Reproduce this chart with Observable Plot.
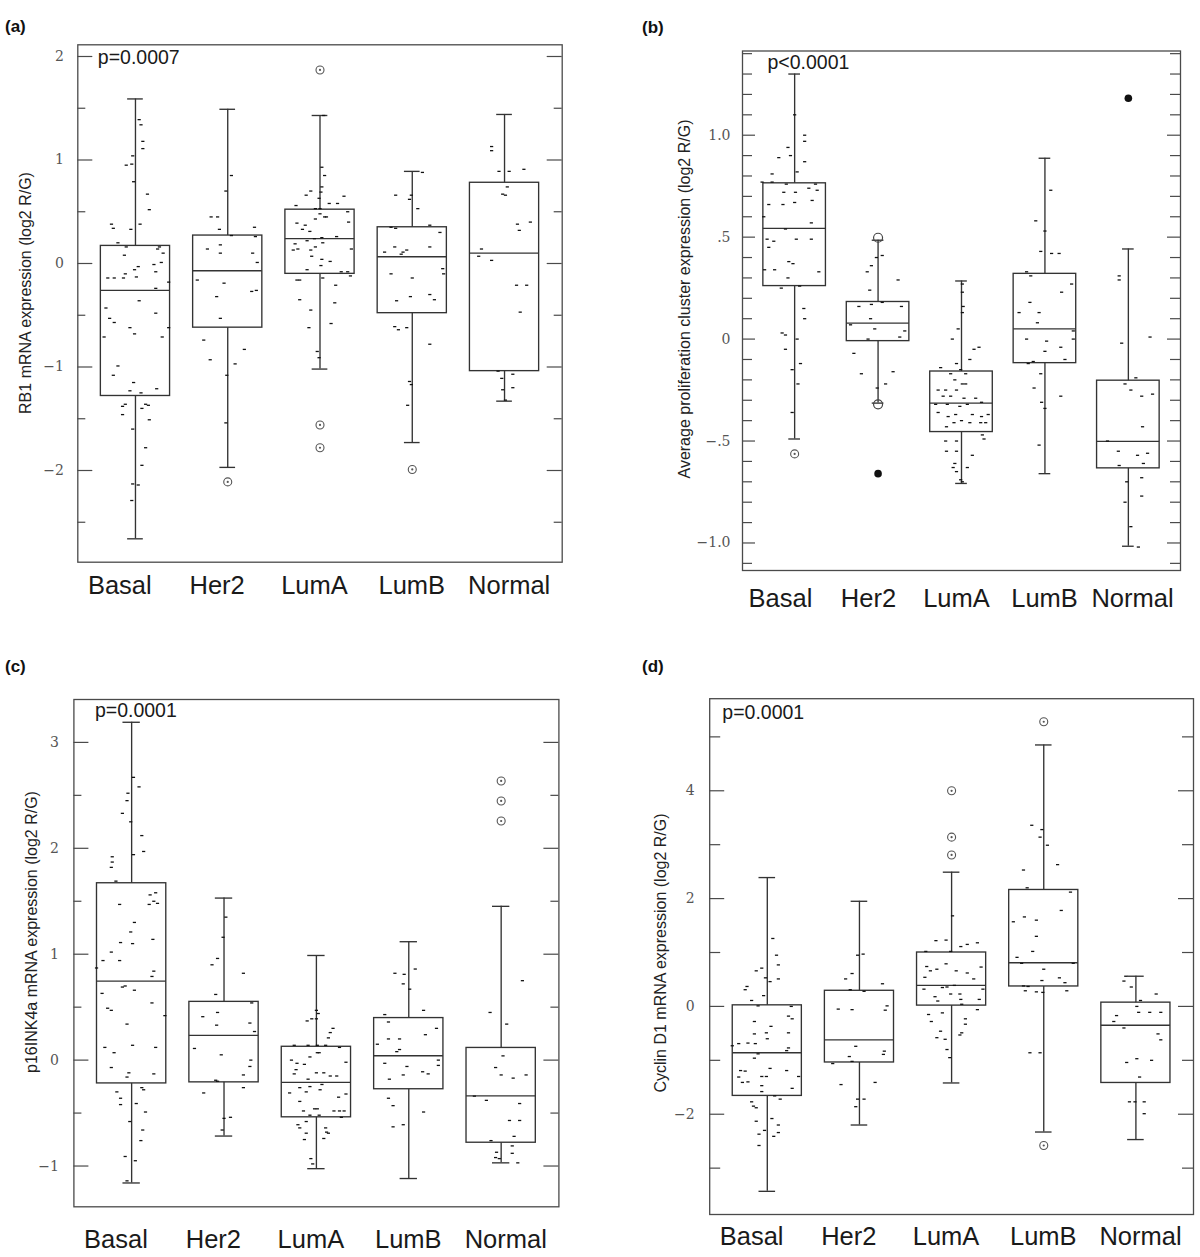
<!DOCTYPE html>
<html><head><meta charset="utf-8">
<script src="https://cdn.jsdelivr.net/npm/d3@7"></script>
<script src="https://cdn.jsdelivr.net/npm/@observablehq/plot@0.6"></script>
<style>
body{margin:0;background:#fff;}
#page{position:relative;width:1200px;height:1257px;overflow:hidden;background:#fff;font-family:"Liberation Sans",Arial,sans-serif;}
.panel{position:absolute;}
.tag{position:absolute;font-weight:bold;font-size:17px;line-height:17px;color:#111;}
.ytitle{position:absolute;white-space:nowrap;font-size:16px;line-height:1;color:#222;transform:translate(-50%,-50%) rotate(-90deg);}
</style></head><body><div id="page"></div>
<script>
const categories = ["Basal", "Her2", "LumA", "LumB", "Normal"];

// ---------- (a) RB1 mRNA expression ----------
// box stats per category: [lower whisker, Q1, median, Q3, upper whisker]
const rb1Box = [[-2.66,-1.28,-0.26,0.17,1.59],[-1.97,-0.62,-0.07,0.27,1.49],[-1.02,-0.10,0.24,0.52,1.43],[-1.73,-0.48,0.065,0.35,0.89],[-1.33,-1.04,0.10,0.78,1.44]];
const rb1Out = [[1,-2.11,"ring"],[2,1.87,"ring"],[2,-1.56,"ring"],[2,-1.78,"ring"],[3,-1.99,"ring"]];
// jittered samples: [horizontal jitter (fraction of category step), value]
const rb1Basal = [[0.04,1.39],[0.06,1.34],[0.08,1.18],[0.08,1.11],[-0.03,1.04],[-0.04,0.96],[-0.10,0.95],[-0.02,0.79],[0.13,0.67],[0.15,0.52],[-0.26,0.38],[-0.24,0.34],[-0.05,0.33],[0.05,0.38],[-0.19,0.20],[-0.10,0.16],[0.26,0.16],[-0.12,0.08],[0.24,0.14],[0.30,0.10],[-0.30,-0.14],[-0.23,-0.14],[-0.13,-0.14],[-0.11,-0.10],[-0.01,-0.06],[0.03,-0.03],[0.22,-0.08],[0.20,-0.01],[0.28,0.01],[0.01,-0.13],[0.22,-0.24],[0.36,-0.18],[-0.32,-0.43],[-0.28,-0.53],[-0.23,-0.57],[-0.06,-0.62],[-0.01,-0.68],[0.04,-0.36],[0.22,-0.48],[0.36,-0.62],[0.29,-0.71],[-0.34,-0.71],[-0.19,-0.99],[-0.24,-1.08],[-0.02,-1.15],[-0.06,-1.23],[0.23,-1.21],[0.06,-1.25],[-0.14,-1.38],[-0.11,-1.36],[-0.14,-1.46],[0.11,-1.36],[0.14,-1.37],[0.07,-1.40],[0.15,-1.51],[-0.03,-1.60],[0.11,-1.78],[0.07,-1.95],[-0.03,-2.13],[0.03,-2.14],[-0.04,-2.29]];
const rb1Her2 = [[0.04,0.85],[-0.02,0.70],[-0.18,0.45],[-0.11,0.45],[-0.09,0.33],[0.04,0.27],[0.29,0.35],[0.30,0.26],[-0.22,0.14],[-0.08,0.18],[-0.08,0.10],[0.27,0.10],[0.32,0.01],[-0.33,-0.16],[-0.04,-0.19],[-0.12,-0.32],[0.31,-0.26],[0.26,-0.27],[-0.08,-0.53],[-0.26,-0.74],[0.18,-0.83],[-0.19,-0.93],[0.08,-0.97],[-0.01,-1.08],[-0.02,-1.54]];
const rb1LumA = [[0.04,1.43],[0.02,0.93],[0.05,0.85],[0.02,0.74],[0.01,0.69],[-0.15,0.66],[-0.10,0.70],[-0.01,0.63],[0.26,0.65],[-0.26,0.56],[0.00,0.53],[-0.05,0.53],[0.10,0.58],[0.19,0.58],[0.30,0.50],[0.00,0.48],[0.05,0.45],[0.07,0.45],[-0.05,0.43],[-0.25,0.39],[-0.11,0.31],[-0.16,0.37],[-0.19,0.33],[0.31,0.40],[0.18,0.26],[0.02,0.25],[-0.06,0.24],[-0.27,0.19],[-0.14,0.22],[-0.05,0.16],[-0.29,0.13],[-0.24,0.14],[-0.10,0.13],[0.03,0.20],[0.34,0.14],[-0.09,0.07],[0.02,0.04],[0.11,0.02],[0.01,-0.02],[-0.14,-0.06],[0.23,-0.08],[0.30,-0.08],[0.33,-0.12],[0.03,-0.14],[-0.25,-0.16],[-0.22,-0.16],[0.17,-0.21],[0.16,-0.38],[-0.22,-0.35],[-0.10,-0.45],[0.12,-0.58],[-0.12,-0.62],[-0.03,-0.85],[-0.01,-0.91]];
const rb1LumB = [[0.11,0.88],[-0.18,0.66],[-0.01,0.66],[-0.03,0.62],[0.06,0.53],[-0.23,0.35],[-0.18,0.34],[0.19,0.37],[0.30,0.30],[0.19,0.16],[-0.19,0.16],[-0.06,0.13],[-0.10,0.11],[-0.12,0.09],[-0.30,0.11],[0.33,-0.05],[0.34,-0.10],[-0.23,-0.10],[0.00,-0.14],[-0.02,-0.32],[0.19,-0.30],[-0.17,-0.36],[0.24,-0.35],[-0.19,-0.61],[-0.15,-0.64],[-0.06,-0.62],[0.19,-0.78],[-0.03,-1.14],[-0.01,-1.17],[-0.05,-1.37]];
const rb1Normal = [[-0.14,1.13],[-0.14,1.09],[-0.06,0.89],[0.05,0.89],[0.21,0.91],[0.03,0.74],[-0.02,0.67],[0.01,0.66],[0.14,0.38],[0.28,0.40],[0.16,0.32],[-0.25,0.14],[-0.28,0.07],[-0.14,0.03],[0.13,-0.21],[0.24,-0.21],[0.17,-0.47],[-0.07,-1.04],[-0.03,-1.11],[0.09,-1.07],[-0.02,-1.22],[0.09,-1.20],[0.01,-1.32]];
const rb1Major = [-2, -1, 0, 1, 2];
const rb1Minor = [-2.5, -1.5, -0.5, 0.5, 1.5];

// ---------- (b) Average proliferation cluster expression ----------
const prolBox = [[-0.49,0.26,0.543,0.764,1.30],[-0.314,-0.01,0.078,0.182,0.485],[-0.708,-0.456,-0.314,-0.159,0.285],[-0.66,-0.118,0.05,0.32,0.887],[-1.016,-0.634,-0.502,-0.204,0.442]];
const prolOut = [[0,-0.563,"ring"],[1,0.497,"open"],[1,-0.32,"open"],[1,-0.66,"filled"],[4,1.181,"filled"]];
const prolBasal = [[0.00,1.10],[0.12,1.00],[0.12,0.97],[-0.08,0.94],[-0.19,0.89],[-0.05,0.90],[0.12,0.87],[-0.27,0.81],[0.03,0.82],[-0.39,0.77],[-0.27,0.77],[-0.10,0.76],[0.25,0.76],[-0.13,0.72],[0.01,0.72],[0.17,0.74],[0.27,0.73],[-0.31,0.66],[-0.14,0.66],[0.21,0.68],[0.00,0.67],[-0.37,0.60],[0.20,0.57],[-0.11,0.54],[-0.33,0.49],[-0.25,0.48],[0.02,0.49],[0.20,0.49],[-0.31,0.45],[-0.07,0.38],[-0.02,0.37],[-0.36,0.34],[-0.24,0.34],[0.29,0.33],[-0.08,0.30],[0.06,0.26],[-0.16,0.25],[0.11,0.15],[0.12,0.10],[-0.15,0.03],[-0.11,0.02],[0.03,0.00],[-0.11,-0.05],[0.07,-0.12],[-0.03,-0.15],[0.04,-0.22],[-0.03,-0.36]];
const prolHer2 = [[0.05,0.41],[-0.02,0.40],[-0.13,0.33],[-0.08,0.36],[0.24,0.29],[-0.10,0.24],[-0.23,0.16],[-0.08,0.17],[0.05,0.18],[0.28,0.16],[-0.09,0.10],[-0.33,0.07],[-0.04,0.05],[0.32,0.04],[0.26,0.01],[-0.12,0.00],[-0.29,-0.07],[-0.20,-0.17],[0.18,-0.16],[0.09,-0.22],[-0.01,-0.24]];
const prolLumA = [[0.01,0.27],[0.01,0.23],[0.02,0.16],[0.01,0.13],[-0.04,0.05],[-0.11,0.00],[0.15,-0.05],[0.21,-0.04],[0.10,-0.10],[-0.06,-0.12],[-0.25,-0.14],[-0.01,-0.15],[-0.13,-0.17],[0.05,-0.17],[-0.08,-0.20],[0.01,-0.22],[0.05,-0.22],[-0.28,-0.25],[-0.19,-0.25],[-0.06,-0.25],[-0.22,-0.28],[-0.13,-0.28],[0.03,-0.29],[0.17,-0.29],[0.24,-0.31],[-0.31,-0.32],[-0.17,-0.32],[-0.02,-0.33],[0.07,-0.32],[-0.28,-0.36],[-0.07,-0.37],[0.13,-0.37],[0.24,-0.38],[0.32,-0.37],[-0.16,-0.38],[0.00,-0.40],[-0.09,-0.41],[0.10,-0.41],[0.23,-0.41],[0.29,-0.41],[-0.18,-0.43],[0.25,-0.47],[0.27,-0.49],[-0.19,-0.50],[-0.06,-0.50],[-0.18,-0.55],[-0.06,-0.55],[0.13,-0.57],[-0.08,-0.61],[-0.10,-0.63],[0.07,-0.63],[-0.06,-0.65],[-0.01,-0.69],[0.01,-0.70]];
const prolLumB = [[0.07,0.73],[-0.11,0.58],[0.00,0.53],[-0.05,0.43],[0.08,0.42],[0.17,0.42],[-0.22,0.33],[-0.17,0.31],[0.32,0.27],[0.20,0.23],[-0.31,0.13],[-0.18,0.18],[-0.07,0.13],[-0.09,0.08],[-0.22,0.00],[0.02,-0.01],[0.34,0.04],[0.34,0.00],[0.19,-0.04],[0.00,-0.06],[-0.14,-0.11],[0.24,-0.10],[-0.20,-0.12],[-0.05,-0.17],[-0.13,-0.24],[0.19,-0.28],[-0.04,-0.31],[0.00,-0.34],[-0.07,-0.52]];
const prolNormal = [[-0.11,0.31],[-0.11,0.29],[0.26,0.01],[-0.08,-0.02],[-0.04,-0.22],[0.09,-0.19],[0.03,-0.25],[0.16,-0.28],[0.29,-0.27],[0.17,-0.43],[-0.25,-0.50],[-0.12,-0.55],[0.11,-0.57],[0.23,-0.56],[-0.11,-0.62],[0.18,-0.61],[-0.02,-0.70],[0.16,-0.68],[0.16,-0.77],[-0.04,-0.80],[0.03,-0.92],[0.12,-1.02]];
const prolMajor = [-1, -0.5, 0, 0.5, 1];
const prolMinor = [-1.1,-0.9,-0.8,-0.7,-0.6,-0.4,-0.3,-0.2,-0.1,0.1,0.2,0.3,0.4,0.6,0.7,0.8,0.9,1.1,1.2,1.3,1.4];
const prolTickLabels = ["−1.0", "−.5", "0", ".5", "1.0"];

// ---------- (c) p16INK4a mRNA expression ----------
const p16Box = [[-1.16,-0.22,0.746,1.67,3.19],[-0.717,-0.21,0.234,0.55,1.53],[-1.025,-0.54,-0.21,0.126,0.988],[-1.118,-0.275,0.041,0.397,1.118],[-0.97,-0.78,-0.338,0.115,1.452]];
const p16Out = [[4,2.636,"ring"],[4,2.447,"ring"],[4,2.258,"ring"]];
const p16Basal = [[0.02,2.67],[0.08,2.58],[-0.04,2.52],[-0.05,2.45],[-0.10,2.33],[-0.01,2.25],[0.11,2.12],[0.13,1.97],[0.02,1.94],[-0.21,1.92],[-0.21,1.87],[-0.22,1.82],[-0.17,1.69],[0.26,1.58],[0.20,1.56],[0.24,1.50],[0.19,1.47],[0.28,1.48],[-0.13,1.47],[0.03,1.30],[-0.01,1.21],[0.23,1.14],[-0.12,1.11],[0.01,1.10],[-0.22,1.02],[-0.13,0.94],[-0.31,0.94],[0.24,0.84],[0.22,0.79],[-0.38,0.87],[-0.10,0.69],[-0.07,0.70],[0.03,0.66],[-0.32,0.63],[0.22,0.54],[-0.26,0.49],[-0.22,0.47],[0.36,0.42],[-0.05,0.34],[-0.29,0.12],[0.01,0.14],[0.26,0.12],[-0.19,0.07],[-0.22,-0.07],[-0.03,-0.12],[-0.05,-0.16],[0.24,-0.13],[0.11,-0.26],[0.13,-0.28],[-0.16,-0.30],[-0.12,-0.36],[-0.12,-0.42],[0.05,-0.41],[0.15,-0.49],[-0.02,-0.58],[0.12,-0.66],[0.10,-0.76],[-0.07,-0.91],[0.04,-0.95],[-0.05,-1.14]];
const p16Her2 = [[0.02,1.35],[-0.01,1.16],[-0.07,0.96],[-0.13,0.90],[0.21,0.82],[-0.09,0.62],[-0.07,0.45],[-0.23,0.41],[0.30,0.54],[-0.08,0.33],[0.28,0.35],[0.33,0.27],[-0.32,0.11],[-0.03,0.05],[0.29,0.00],[0.28,-0.06],[0.21,-0.14],[-0.09,-0.19],[-0.07,-0.20],[0.21,-0.26],[-0.22,-0.31],[0.07,-0.54],[0.00,-0.55],[-0.02,-0.66]];
const p16LumA = [[0.00,0.47],[0.02,0.44],[-0.10,0.37],[-0.05,0.39],[0.00,0.39],[0.18,0.30],[0.15,0.26],[0.13,0.21],[-0.24,0.14],[-0.09,0.14],[0.01,0.14],[0.10,0.14],[0.25,0.12],[0.01,0.07],[0.03,0.07],[-0.07,0.03],[-0.27,0.00],[-0.21,-0.03],[-0.13,-0.04],[0.32,-0.02],[-0.22,-0.09],[-0.24,-0.13],[0.00,-0.12],[0.08,-0.12],[0.15,-0.15],[0.22,-0.15],[-0.09,-0.18],[-0.07,-0.25],[-0.18,-0.26],[0.06,-0.23],[0.04,-0.28],[-0.29,-0.31],[-0.11,-0.30],[0.32,-0.32],[0.24,-0.35],[-0.18,-0.39],[-0.14,-0.48],[-0.02,-0.46],[0.01,-0.46],[0.19,-0.48],[0.25,-0.48],[0.30,-0.48],[0.27,-0.54],[-0.07,-0.52],[0.03,-0.52],[-0.20,-0.61],[-0.18,-0.64],[-0.11,-0.58],[0.10,-0.64],[0.11,-0.68],[0.13,-0.69],[0.08,-0.74],[-0.13,-0.75],[-0.11,-0.69],[-0.06,-0.93],[-0.04,-0.98]];
const p16LumB = [[0.07,0.86],[-0.15,0.82],[-0.05,0.81],[-0.06,0.72],[0.01,0.67],[0.16,0.47],[-0.26,0.43],[-0.22,0.36],[0.30,0.30],[0.18,0.24],[-0.22,0.20],[-0.10,0.20],[-0.34,0.15],[-0.10,0.10],[-0.13,0.08],[0.32,0.00],[-0.26,-0.03],[0.32,-0.05],[-0.02,-0.06],[0.15,-0.11],[0.21,-0.13],[-0.06,-0.14],[-0.21,-0.18],[-0.22,-0.36],[-0.17,-0.43],[0.16,-0.49],[-0.06,-0.61],[-0.17,-0.63]];
const p16Normal = [[0.23,0.75],[-0.12,0.45],[0.06,0.34],[0.02,0.04],[-0.06,-0.07],[0.00,-0.14],[0.13,-0.17],[0.27,-0.14],[-0.29,-0.34],[-0.16,-0.38],[0.20,-0.41],[0.09,-0.57],[0.20,-0.57],[0.14,-0.72],[-0.11,-0.76],[0.12,-0.81],[-0.05,-0.87],[0.12,-0.88],[-0.06,-0.92],[-0.02,-0.93],[0.18,-0.97]];
const p16Major = [-1, 0, 1, 2, 3];
const p16Minor = [-0.5, 0.5, 1.5, 2.5];

// ---------- (d) Cyclin D1 mRNA expression ----------
const cycBox = [[-3.43,-1.66,-0.86,0.02,2.39],[-2.20,-1.04,-0.62,0.29,1.95],[-1.42,0.015,0.39,1.0,2.49],[-2.33,0.37,0.81,2.16,4.85],[-2.47,-1.42,-0.35,0.07,0.56]];
const cycOut = [[2,4.0,"ring"],[2,3.14,"ring"],[2,2.81,"ring"],[3,5.28,"ring"],[3,-2.58,"ring"]];
const cycBasal = [[0.06,1.26],[0.10,0.95],[0.12,0.77],[-0.06,0.71],[-0.12,0.66],[-0.02,0.53],[0.12,0.51],[0.03,0.46],[-0.22,0.37],[-0.24,0.31],[-0.04,0.20],[-0.17,0.11],[-0.10,0.01],[0.26,0.00],[0.23,-0.18],[0.27,-0.23],[-0.14,-0.28],[0.04,-0.37],[-0.14,-0.51],[-0.01,-0.49],[0.23,-0.49],[0.00,-0.60],[-0.31,-0.69],[-0.21,-0.68],[-0.13,-0.69],[-0.38,-0.73],[0.23,-0.77],[0.21,-0.82],[-0.10,-0.88],[-0.14,-0.96],[0.03,-1.15],[-0.29,-1.19],[-0.24,-1.20],[-0.31,-1.31],[-0.27,-1.41],[-0.21,-1.40],[-0.06,-1.30],[-0.01,-1.30],[0.21,-1.19],[0.34,-1.30],[0.27,-1.52],[-0.06,-1.47],[-0.06,-1.58],[0.08,-1.66],[0.14,-1.72],[-0.17,-1.77],[-0.15,-1.85],[-0.12,-1.88],[-0.12,-2.13],[0.05,-2.08],[0.12,-2.20],[-0.03,-2.30],[-0.09,-2.37],[0.12,-2.34],[0.07,-2.41],[-0.09,-2.58]];
const cycHer2 = [[-0.02,0.95],[0.04,0.97],[-0.08,0.61],[-0.15,0.51],[0.25,0.42],[-0.10,0.31],[0.05,0.28],[-0.23,-0.05],[-0.08,-0.06],[0.28,-0.07],[0.30,0.01],[-0.04,-0.74],[-0.11,-0.93],[0.26,-0.89],[0.27,-0.83],[-0.29,-1.06],[-0.08,-1.02],[-0.20,-1.45],[0.17,-1.41],[0.05,-1.72],[-0.02,-1.72],[-0.04,-1.86]];
const cycLumA = [[0.01,1.68],[-0.06,1.23],[-0.17,1.22],[0.17,1.15],[0.28,1.18],[0.10,1.11],[-0.01,1.02],[-0.28,1.02],[-0.06,0.79],[-0.27,0.74],[-0.16,0.69],[-0.23,0.66],[0.32,0.73],[0.05,0.66],[0.17,0.62],[-0.29,0.54],[0.24,0.51],[0.03,0.39],[-0.10,0.35],[-0.05,0.36],[-0.30,0.32],[-0.18,0.18],[-0.01,0.23],[0.34,0.32],[0.09,0.23],[-0.15,0.10],[0.10,0.13],[0.30,0.13],[0.11,0.04],[0.28,-0.06],[-0.25,-0.15],[-0.10,-0.12],[0.15,-0.23],[-0.22,-0.28],[0.15,-0.33],[-0.12,-0.46],[0.11,-0.49],[0.09,-0.53],[-0.07,-0.61],[-0.16,-0.58],[-0.05,-0.80],[-0.02,-0.95]];
const cycLumB = [[-0.13,3.36],[-0.02,3.28],[-0.04,3.14],[0.04,2.99],[0.15,2.63],[-0.22,2.53],[-0.18,2.20],[0.29,2.12],[0.19,1.78],[-0.21,1.66],[-0.33,1.57],[-0.08,1.60],[-0.08,1.30],[-0.12,1.02],[-0.29,0.91],[-0.24,0.80],[0.00,0.69],[0.32,0.80],[-0.02,0.48],[0.17,0.53],[0.23,0.44],[-0.22,0.38],[-0.17,0.37],[-0.20,0.29],[-0.08,0.27],[0.25,0.29],[-0.01,0.26],[-0.15,-0.86],[-0.04,-0.86]];
const cycNormal = [[-0.11,0.56],[-0.13,0.47],[-0.05,0.36],[0.22,0.23],[0.05,0.11],[0.01,0.00],[-0.21,-0.17],[0.03,-0.11],[0.15,-0.11],[0.27,-0.11],[-0.24,-0.28],[-0.13,-0.40],[0.24,-0.51],[0.27,-0.62],[-0.10,-1.04],[0.01,-0.97],[0.17,-1.00],[0.04,-1.31],[-0.07,-1.77],[-0.01,-1.77],[0.09,-1.77],[0.09,-1.99]];
const cycMajor = [-2, 0, 2, 4];
const cycMinor = [-3, -1, 1, 3, 5];

// ---------- layout (page coordinates) ----------
const panels = [
  {tag: "(a)", tagX: 5, tagY: 18, left: 0, top: 0, width: 600, height: 630,
   frame: {l: 77.3, r: 561.7, t: 44.3, b: 561.7}, yDomain: [-2.886, 2.113],
   box: rb1Box, out: rb1Out, points: [rb1Basal, rb1Her2, rb1LumA, rb1LumB, rb1Normal],
   major: rb1Major, minor: rb1Minor, majorLen: 15, minorLen: 8, yFormat: null,
   yPad: 14, xPad: 14, cap: 0.085, p: "p=0.0007", pdx: 20, pdy: 19,
   title: "RB1 mRNA expression (log2 R/G)", titleX: 26, titleY: 293},
  {tag: "(b)", tagX: 642, tagY: 19, left: 600, top: 0, width: 600, height: 630,
   frame: {l: 742, r: 1180, t: 50.5, b: 570}, yDomain: [-1.135, 1.413],
   box: prolBox, out: prolOut, points: [prolBasal, prolHer2, prolLumA, prolLumB, prolNormal],
   major: prolMajor, minor: prolMinor, majorLen: 13, minorLen: 10, yFormat: d => prolTickLabels[prolMajor.indexOf(d)],
   yPad: 12, xPad: 18, cap: 0.07, p: "p<0.0001", pdx: 25, pdy: 17.5,
   title: "Average proliferation cluster expression (log2 R/G)", titleX: 685, titleY: 299},
  {tag: "(c)", tagX: 5, tagY: 658, left: 0, top: 640, width: 600, height: 617,
   frame: {l: 73.4, r: 558.4, t: 699, b: 1206.3}, yDomain: [-1.385, 3.405],
   box: p16Box, out: p16Out, points: [p16Basal, p16Her2, p16LumA, p16LumB, p16Normal],
   major: p16Major, minor: p16Minor, majorLen: 15, minorLen: 8, yFormat: null,
   yPad: 15, xPad: 23, cap: 0.094, p: "p=0.0001", pdx: 21, pdy: 17.7,
   title: "p16INK4a mRNA expression (log2 R/G)", titleX: 32, titleY: 932},
  {tag: "(d)", tagX: 642, tagY: 658, left: 600, top: 640, width: 600, height: 617,
   frame: {l: 709.2, r: 1193, t: 698.2, b: 1214}, yDomain: [-3.86, 5.708],
   box: cycBox, out: cycOut, points: [cycBasal, cycHer2, cycLumA, cycLumB, cycNormal],
   major: cycMajor, minor: cycMinor, majorLen: 15, minorLen: 11, yFormat: null,
   yPad: 15, xPad: 12, cap: 0.09, p: "p=0.0001", pdx: 12.6, pdy: 20.5,
   title: "Cyclin D1 mRNA expression (log2 R/G)", titleX: 661, titleY: 953}
];

// x-axis labels sit slightly spread relative to the boxes
const labelPos = categories.map((c, i) => 1.94 + (i - 2) * 1.055);
const dash = {draw(ctx) { ctx.rect(-1.6, -0.65, 3.2, 1.3); }};
const SANS = "Liberation Sans, Arial, sans-serif";
const SERIF = "DejaVu Serif, Liberation Serif, serif";
const page = document.getElementById("page");

for (const cfg of panels) {
  const fw = cfg.frame.r - cfg.frame.l;
  const boxes = cfg.box.map(([lo, q1, med, q3, hi], i) => ({i, lo, q1, med, q3, hi}));
  const pts = cfg.points.flatMap((arr, i) => arr.map(([j, v]) => ({x: i + j, y: v})));
  const outs = cfg.out.map(([i, v, kind]) => ({x: i, y: v, kind}));
  const W = 0.375;
  const line = {stroke: "#333", strokeWidth: 1.35};
  const axisCol = "#4a4a4a";
  const svg = Plot.plot({
    width: cfg.width, height: cfg.height,
    marginLeft: cfg.frame.l - cfg.left,
    marginRight: cfg.left + cfg.width - cfg.frame.r,
    marginTop: cfg.frame.t - cfg.top,
    marginBottom: cfg.top + cfg.height - cfg.frame.b,
    style: {fontFamily: SANS, background: "transparent", overflow: "visible"},
    x: {type: "linear", domain: [-0.625, 4.625]},
    y: {type: "linear", domain: cfg.yDomain},
    marks: [
      Plot.ruleX(boxes, {x: "i", y1: "q3", y2: "hi", ...line}),
      Plot.ruleX(boxes, {x: "i", y1: "lo", y2: "q1", ...line}),
      Plot.ruleY(boxes, {y: "hi", x1: d => d.i - cfg.cap, x2: d => d.i + cfg.cap, ...line}),
      Plot.ruleY(boxes, {y: "lo", x1: d => d.i - cfg.cap, x2: d => d.i + cfg.cap, ...line}),
      Plot.rect(boxes, {x1: d => d.i - W, x2: d => d.i + W, y1: "q1", y2: "q3", fill: "none", ...line}),
      Plot.ruleY(boxes, {y: "med", x1: d => d.i - W, x2: d => d.i + W, ...line}),
      Plot.dot(pts, {x: "x", y: "y", symbol: dash, r: 1.5, fill: "#111", stroke: "none"}),
      Plot.dot(outs.filter(d => d.kind === "ring"), {x: "x", y: "y", r: 4, fill: "none", stroke: "#555", strokeWidth: 1.1}),
      Plot.dot(outs.filter(d => d.kind === "ring"), {x: "x", y: "y", r: 1.1, fill: "#555", stroke: "none"}),
      Plot.dot(outs.filter(d => d.kind === "open"), {x: "x", y: "y", r: 4.5, fill: "none", stroke: "#444", strokeWidth: 1.2}),
      Plot.dot(outs.filter(d => d.kind === "filled"), {x: "x", y: "y", r: 3.8, fill: "#111", stroke: "none"}),
      Plot.ruleY(cfg.major, {y: d => d, insetRight: fw - cfg.majorLen, stroke: axisCol, strokeWidth: 1.2}),
      Plot.ruleY(cfg.major, {y: d => d, insetLeft: fw - cfg.majorLen, stroke: axisCol, strokeWidth: 1.2}),
      Plot.ruleY(cfg.minor, {y: d => d, insetRight: fw - cfg.minorLen, stroke: axisCol, strokeWidth: 1.2}),
      Plot.ruleY(cfg.minor, {y: d => d, insetLeft: fw - cfg.minorLen, stroke: axisCol, strokeWidth: 1.2}),
      Plot.frame({stroke: axisCol, strokeWidth: 1.3}),
      Plot.axisY(cfg.major, {tickSize: 0, tickPadding: cfg.yPad, label: null,
        tickFormat: cfg.yFormat ?? (d => d < 0 ? "−" + Math.abs(d) : String(d)),
        fontSize: 14, fontFamily: SERIF, fill: "#555"}),
      Plot.axisX(labelPos, {tickSize: 0, tickPadding: cfg.xPad, label: null,
        tickFormat: d => categories[Math.round(d)], fontSize: 25.5, fontFamily: SANS, fill: "#1a1a1a"}),
      Plot.text([cfg.p], {frameAnchor: "top-left", dx: cfg.pdx, dy: cfg.pdy, text: d => d,
        textAnchor: "start", lineAnchor: "bottom", fontSize: 19.5, fontFamily: SANS, fill: "#1a1a1a"})
    ]
  });
  const holder = document.createElement("div");
  holder.className = "panel";
  holder.style.left = cfg.left + "px";
  holder.style.top = cfg.top + "px";
  holder.appendChild(svg);
  page.appendChild(holder);

  const tag = document.createElement("div");
  tag.className = "tag";
  tag.textContent = cfg.tag;
  tag.style.left = cfg.tagX + "px";
  tag.style.top = cfg.tagY + "px";
  page.appendChild(tag);

  const t = document.createElement("div");
  t.className = "ytitle";
  t.textContent = cfg.title;
  t.style.left = cfg.titleX + "px";
  t.style.top = cfg.titleY + "px";
  page.appendChild(t);
}
</script></body></html>
